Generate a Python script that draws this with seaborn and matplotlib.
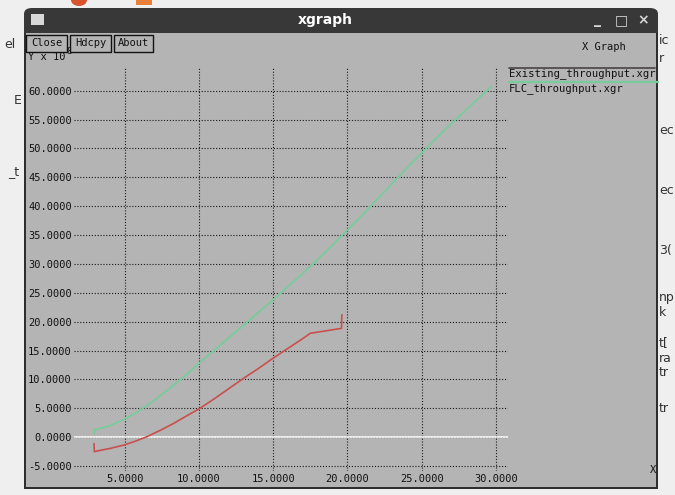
import matplotlib
matplotlib.use("Agg")
import matplotlib.pyplot as plt
from matplotlib.patches import Rectangle, FancyBboxPatch, Ellipse
from matplotlib.lines import Line2D
import seaborn as sns
import pandas as pd

# ---------------- data ----------------
existing_x = [2.93, 2.95, 3.3, 4.0, 4.95, 5.7, 6.5, 7.4, 8.3, 9.1, 10.0, 11.0,
              12.0, 13.0, 14.0, 15.0, 16.0, 17.0, 17.5, 18.5, 19.6, 19.62]
existing_y = [-1.1, -2.5, -2.3, -1.95, -1.35, -0.7, 0.1, 1.2, 2.4, 3.6, 4.9, 6.6,
              8.4, 10.2, 11.9, 13.7, 15.4, 17.1, 18.0, 18.4, 18.85, 21.2]
flc_x = [2.93, 2.95, 3.8, 4.95, 6.0, 7.0, 8.0, 9.0, 10.0, 11.0, 12.0, 13.0, 14.0,
         15.0, 16.0, 17.0, 18.0, 19.0, 20.0, 21.0, 22.0, 23.0, 24.0, 25.0, 26.0,
         27.0, 28.0, 29.0, 29.7]
flc_y = [0.6, 1.3, 1.8, 3.1, 4.6, 6.4, 8.4, 10.5, 12.8, 15.0, 17.2, 19.4, 21.6,
         23.8, 26.1, 28.4, 30.8, 33.3, 35.9, 38.5, 41.2, 43.9, 46.6, 49.2, 51.8,
         54.3, 56.7, 59.1, 60.7]
x_ticks = [5, 10, 15, 20, 25, 30]
y_ticks = [-5, 0, 5, 10, 15, 20, 25, 30, 35, 40, 45, 50, 55, 60]
legend_names = ["Existing_throughput.xgr", "FLC_throughput.xgr"]

W, H = 675, 495
def fx(px): return px / W
def fy(py): return 1 - py / H

sns.set_theme(style="white")
plt.rcParams['font.family'] = ['DejaVu Sans']
mono = 'DejaVu Sans Mono'

fig = plt.figure(figsize=(6.75, 4.95), dpi=100)
fig.patch.set_facecolor('#efefef')

GRAY = '#b4b4b4'
RED = '#c8504e'
GREEN = '#78cc9c'

# background fragments of other windows
frag = dict(color='#333333', fontsize=9, zorder=-3, ha='left', va='center')
for txt, x, y in [("el", 4, 45), ("E", 14, 100), ("_t", 8, 172)]:
    fig.text(fx(x), fy(y), txt, **frag)
for txt, y in [("ic", 40), ("r", 58), ("ec", 130), ("ec", 190), ("3(", 250),
               ("np", 298), ("k", 313), ("t[", 343), ("ra", 358), ("tr", 373), ("tr", 408)]:
    fig.text(fx(659), fy(y), txt, **frag)
# partly visible icons at the very top
fig.patches.append(Ellipse((fx(79), fy(0)), fx(16), fy(0) - fy(12), transform=fig.transFigure,
                           facecolor='#d9532c', edgecolor='none', zorder=-3))
fig.patches.append(Rectangle((fx(136), fy(5)), fx(16), fy(0) - fy(5), transform=fig.transFigure,
                             facecolor='#e8803a', edgecolor='none', zorder=-3))

# window: title bar and content
fig.patches.append(FancyBboxPatch((fx(24), fy(42)), fx(658) - fx(24), fy(8) - fy(42),
                                  boxstyle="round,pad=0,rounding_size=0.012",
                                  transform=fig.transFigure, facecolor='#383838',
                                  edgecolor='none', zorder=-2))
fig.patches.append(Rectangle((fx(24), fy(489)), fx(658) - fx(24), fy(33) - fy(489),
                             transform=fig.transFigure, facecolor='#2e2e2e',
                             edgecolor='none', zorder=-2))
fig.patches.append(Rectangle((fx(26), fy(487)), fx(656) - fx(26), fy(33) - fy(487),
                             transform=fig.transFigure, facecolor=GRAY,
                             edgecolor='none', zorder=-1.5))
# title bar details
fig.patches.append(Rectangle((fx(31), fy(25)), fx(13), fy(14) - fy(25),
                             transform=fig.transFigure, facecolor='#d8d8d8',
                             edgecolor='none', zorder=-1))
fig.text(fx(325), fy(20), "xgraph", color='white', fontsize=10, fontweight='bold',
         ha='center', va='center')
for txt, x in [("_", 598), ("□", 621), ("×", 643)]:
    fig.text(fx(x), fy(20), txt, color='#d8d8d8', fontsize=10, fontweight='bold',
             ha='center', va='center')

# buttons
for txt, x0, x1 in [("Close", 26, 67), ("Hdcpy", 70, 111), ("About", 114, 153)]:
    fig.patches.append(Rectangle((fx(x0), fy(52)), fx(x1) - fx(x0), fy(35) - fy(52),
                                 transform=fig.transFigure, facecolor=GRAY,
                                 edgecolor='#111111', lw=1, zorder=2))
    fig.text(fx((x0 + x1) / 2), fy(43.5), txt, family=mono, fontsize=7.5,
             color='#111111', ha='center', va='center', zorder=3)
fig.text(fx(28), fy(56.5), "Y x 10", family=mono, fontsize=7.5, color='#111111',
         ha='left', va='center', zorder=1)
fig.text(fx(66), fy(52), "8", family=mono, fontsize=6.5, color='#111111',
         ha='left', va='center', zorder=1)
fig.text(fx(582), fy(47), "X Graph", family=mono, fontsize=7.5, color='#111111',
         ha='left', va='center')
fig.text(fx(650), fy(470), "X", family=mono, fontsize=7.5, color='#111111',
         ha='left', va='center')

# legend
fig.add_artist(Line2D([fx(509), fx(655)], [fy(68), fy(68)], color='#4a4444', lw=1.2,
                      transform=fig.transFigure))
fig.text(fx(509), fy(74), legend_names[0], family=mono, fontsize=7.6, color='#111111',
         ha='left', va='center')
fig.add_artist(Line2D([fx(509), fx(658)], [fy(82), fy(82)], color=GREEN, lw=1.6,
                      transform=fig.transFigure))
fig.text(fx(509), fy(88.5), legend_names[1], family=mono, fontsize=7.6, color='#111111',
         ha='left', va='center')

# ---------------- plot axes ----------------
ax = fig.add_axes([fx(74), fy(471), (508 - 74) / W, (471 - 68) / H])
ax.set_zorder(1)
ax.patch.set_alpha(0)
for s in ax.spines.values():
    s.set_visible(False)

ax.axhline(0, color='white', lw=1.1, zorder=1.5)
sns.lineplot(x=existing_x, y=existing_y, sort=False, estimator=None, ax=ax,
             color=RED, lw=1.2, zorder=3)
sns.lineplot(x=flc_x, y=flc_y, sort=False, estimator=None, ax=ax,
             color=GREEN, lw=1.3, zorder=3)

ax.set_xlim(1.582, 30.81)
ax.set_ylim(-5.85, 63.93)
ax.set_xticks(x_ticks)
ax.set_xticklabels([f"{v:.4f}" for v in x_ticks], family=mono, fontsize=7.5, color='#111111')
ax.set_yticks(y_ticks)
ax.set_yticklabels([f"{v:.4f}" for v in y_ticks], family=mono, fontsize=7.5, color='#111111')
ax.tick_params(axis='both', length=0)
ax.tick_params(axis='y', pad=1.5)
ax.tick_params(axis='x', pad=2)
ax.grid(True, color='#1a1a1a', linestyle=(0, (1, 1.6)), linewidth=0.8)
ax.set_axisbelow(True)
ax.set_xlabel("")
ax.set_ylabel("")

fig.savefig("out.png", dpi=100, facecolor=fig.get_facecolor())
